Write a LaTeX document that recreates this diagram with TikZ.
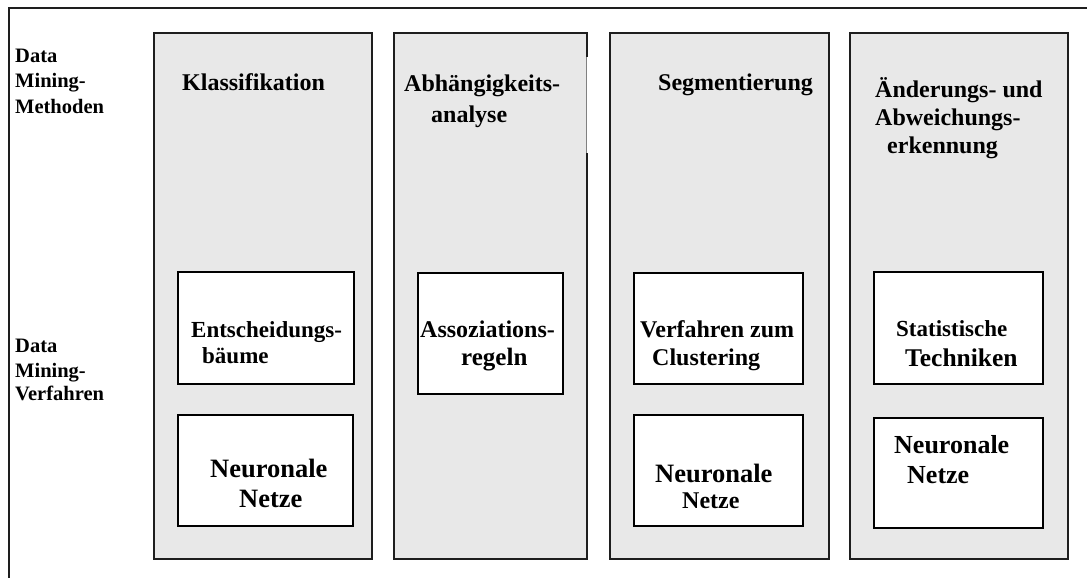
\documentclass[tikz,border=0pt]{standalone}
\usepackage{fontspec}
\setmainfont{Liberation Serif}
\definecolor{colfill}{RGB}{232,232,232}
\definecolor{edge}{RGB}{30,30,30}
\tikzset{
  frameline/.style={line width=1.4pt, draw=edge},
  column/.style={fill=colfill, draw=edge, line width=1.7pt},
  method/.style={fill=white, draw=black, line width=1.7pt},
  txt/.style={anchor=base west, inner sep=0pt,
    font=\bfseries\fontsize{#1}{#1}\selectfont},
}
\begin{document}
\begin{tikzpicture}[x=1pt, y=-1pt]
\useasboundingbox (0,0) rectangle (1087,578);

% outer frame (open to the right and bottom)
\draw[frameline] (9,578) -- (9,8) -- (1087,8);

% method columns
\draw[column] (154,33) rectangle (372,559);
\fill[colfill] (394,33) rectangle (587,559);
\draw[column, fill=none] (587,57) -- (587,33) -- (394,33) -- (394,559) -- (587,559) -- (587,153);
\draw[line width=0.5pt, draw=gray] (586,57) -- (586,153);
\draw[column] (610,33) rectangle (829,559);
\draw[column] (850,33) rectangle (1068,559);

% procedure boxes
\draw[method] (178,272) rectangle (354,384);
\draw[method] (178,415) rectangle (353,526);
\draw[method] (418,273) rectangle (563,394);
\draw[method] (634,273) rectangle (803,384);
\draw[method] (634,415) rectangle (803,526);
\draw[method] (874,272) rectangle (1043,384);
\draw[method] (874,418) rectangle (1043,528);

% row labels
\node[txt=20.5] (m1) at (15,63) {Data};
\node[txt=20.5] (m2) at (15,88) {Mining-};
\node[txt=20.5] (m3) at (15,113) {Methoden};
\node[txt=20.5] (v1) at (15,352) {Data};
\node[txt=20.5] (v2) at (15,377) {Mining-};
\node[txt=20.5] (v3) at (15,400) {Verfahren};

% column headings
\node[txt=24] (k1) at (182,90) {Klassifikation};
\node[txt=24] (a1) at (404,92) {Abhängigkeits-};
\node[txt=24] (a2) at (431,122) {analyse};
\node[txt=24] (s1) at (658,90) {Segmentierung};
\node[txt=24] (d1) at (875,97) {Änderungs- und};
\node[txt=24] (d2) at (875,125) {Abweichungs-};
\node[txt=24] (d3) at (887,153) {erkennung};

% procedures
\node[txt=23] (e1) at (191,337) {Entscheidungs-};
\node[txt=23] (e2) at (202,363) {bäume};
\node[txt=26.5] (n1) at (210,477) {Neuronale};
\node[txt=26.5] (n2) at (239,507) {Netze};
\node[txt=24] (r1) at (420,337) {Assoziations-};
\node[txt=25] (r2) at (461,365) {regeln};
\node[txt=24] (c1) at (640,337) {Verfahren zum};
\node[txt=24] (c2) at (652,365) {Clustering};
\node[txt=26.5] (n3) at (655,482) {Neuronale};
\node[txt=24] (n4) at (682,508) {Netze};
\node[txt=23] (t1) at (896,336) {Statistische};
\node[txt=25.5] (t2) at (905,366) {Techniken};
\node[txt=26] (n5) at (894,453) {Neuronale};
\node[txt=26] (n6) at (907,483) {Netze};
\end{tikzpicture}
\end{document}
